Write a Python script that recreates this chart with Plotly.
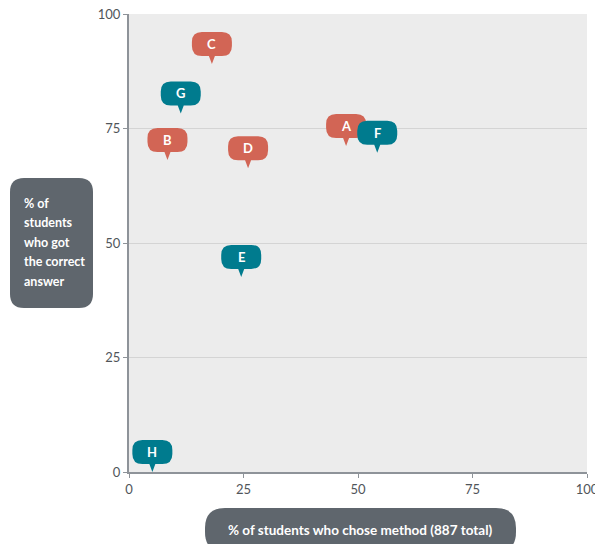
import plotly.graph_objects as go

# Data
labels = ["A", "B", "C", "D", "E", "F", "G", "H"]
pct_chose = [47.4, 8.4, 18.1, 26.0, 24.5, 54.2, 11.3, 5.1]
pct_correct = [71.2, 68.1, 89.1, 66.3, 42.6, 69.7, 78.3, 0.0]
groups = ["red", "red", "red", "red", "teal", "teal", "teal", "teal"]
ticks = [0, 25, 50, 75, 100]
y_title_lines = ["% of", "students", "who got", "the correct", "answer"]
x_title = "% of students who chose method (887 total)"

colors = {"red": "#d26555", "teal": "#007b8e"}
FONT = "Lato"

fig = go.Figure()
fig.add_trace(go.Scatter(x=pct_chose, y=pct_correct, mode="markers",
                         marker=dict(size=1, opacity=0), hoverinfo="skip",
                         showlegend=False))

bubble = ("M 0,0 L -3,8 L -10,8 Q -20,8 -20,18 L -20,22 Q -20,32 -10,32 "
          "L 10,32 Q 20,32 20,22 L 20,18 Q 20,8 10,8 L 3,8 Z")

shapes = []
annotations = []
# draw order: so that F sits above A
order = ["C", "G", "B", "D", "E", "H", "A", "F"]
for lab in order:
    i = labels.index(lab)
    shapes.append(dict(type="path", xref="x", yref="y",
                       xsizemode="pixel", ysizemode="pixel",
                       xanchor=pct_chose[i], yanchor=pct_correct[i],
                       path=bubble, fillcolor=colors[groups[i]],
                       line=dict(width=0), layer="above"))
    annotations.append(dict(x=pct_chose[i], y=pct_correct[i], xref="x", yref="y",
                            text=f"<b>{lab}</b>", showarrow=False, yshift=20,
                            font=dict(family=FONT, size=13, color="white"),
                            xanchor="center", yanchor="middle"))

# Y title box
shapes.append(dict(type="path", xref="paper", yref="paper",
                   xsizemode="pixel", ysizemode="pixel", xanchor=0, yanchor=0,
                   path=("M -105,164 L -50,164 Q -36,164 -36,178 L -36,280 Q -36,294 -50,294 "
                         "L -105,294 Q -119,294 -119,280 L -119,178 Q -119,164 -105,164 Z"),
                   fillcolor="#5f666d", line=dict(width=0), layer="above"))
for k, line in enumerate(y_title_lines):
    annotations.append(dict(x=0, y=0, xref="paper", yref="paper",
                            xshift=-107, yshift=269 - 19.5 * k,
                            text=f"<b>{line}</b>", showarrow=False,
                            xanchor="left", yanchor="middle",
                            font=dict(family=FONT, size=12.5, color="white")))

# X title box
shapes.append(dict(type="path", xref="paper", yref="paper",
                   xsizemode="pixel", ysizemode="pixel", xanchor=0, yanchor=0,
                   path=("M 96,-36 L 367,-36 Q 387,-36 387,-56 L 387,-60 Q 387,-80 367,-80 "
                         "L 96,-80 Q 76,-80 76,-60 L 76,-56 Q 76,-36 96,-36 Z"),
                   fillcolor="#5f666d", line=dict(width=0), layer="above"))
annotations.append(dict(x=0, y=0, xref="paper", yref="paper",
                        xshift=231.5, yshift=-58, text=f"<b>{x_title}</b>",
                        showarrow=False, xanchor="center", yanchor="middle",
                        font=dict(family=FONT, size=13.5, color="white")))

axis_common = dict(range=[0, 100], tickvals=ticks, ticktext=[str(t) for t in ticks],
                   showline=True, linecolor="#8e9399", linewidth=2,
                   ticks="outside", ticklen=4, tickcolor="#8e9399", tickwidth=1,
                   zeroline=False, fixedrange=True, ticklabeloverflow="allow",
                   automargin=False,
                   tickfont=dict(family=FONT, size=13, color="#50555a"))

fig.update_layout(
    width=595, height=544,
    margin=dict(l=129, r=8, t=14, b=72, autoexpand=False),
    paper_bgcolor="white", plot_bgcolor="#ececec",
    xaxis=dict(**axis_common, showgrid=False),
    yaxis=dict(**axis_common, showgrid=True, gridcolor="#d4d4d4", gridwidth=1),
    shapes=shapes, annotations=annotations, showlegend=False,
)

fig.write_html("out.html")
